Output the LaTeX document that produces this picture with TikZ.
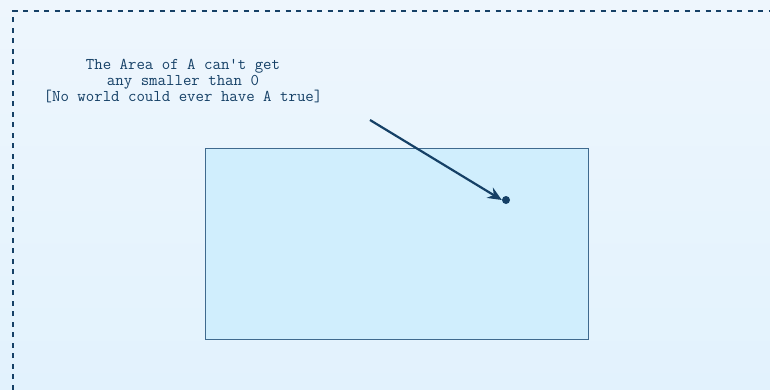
\documentclass[tikz,border=0pt]{standalone}
\usetikzlibrary{arrows.meta}
\definecolor{inkblue}{HTML}{154066}
\definecolor{boxfill}{HTML}{D0EEFD}
\definecolor{boxline}{HTML}{3F6A8E}
\definecolor{bgtop}{HTML}{EEF6FD}
\definecolor{bgbot}{HTML}{E2F2FD}
\tikzset{
  areabox/.style={draw=boxline, fill=boxfill, line width=1pt},
  note/.style={align=center, text=inkblue, font=\ttfamily\fontsize{16.4}{16}\selectfont, inner sep=0pt},
  pin/.style={circle, fill=inkblue, inner sep=0pt, minimum size=8pt},
}
\begin{document}
\begin{tikzpicture}[x=1pt, y=-1pt, >={Stealth[length=14pt,width=12pt]}]
\useasboundingbox (0,0) rectangle (770,389);
\shade[top color=bgtop, bottom color=bgbot] (0,0) rectangle (770,389);
% dashed frame, cut off at the right and bottom
\draw[inkblue, line width=2pt, dash pattern=on 5pt off 5.5pt] (13,400)--(13,11)--(780,11);
\filldraw[areabox] (205,148) rectangle (588,339);
\node[note] (msg) at (183,81) {The Area of A can't get\\any smaller than 0\\{[No world could ever have A true]}};
\node[pin] (spot) at (506,200) {};
\coordinate (start) at (370,120);
\draw[->, inkblue, line width=2.2pt] (start) -- (spot.west);
\end{tikzpicture}
\end{document}
